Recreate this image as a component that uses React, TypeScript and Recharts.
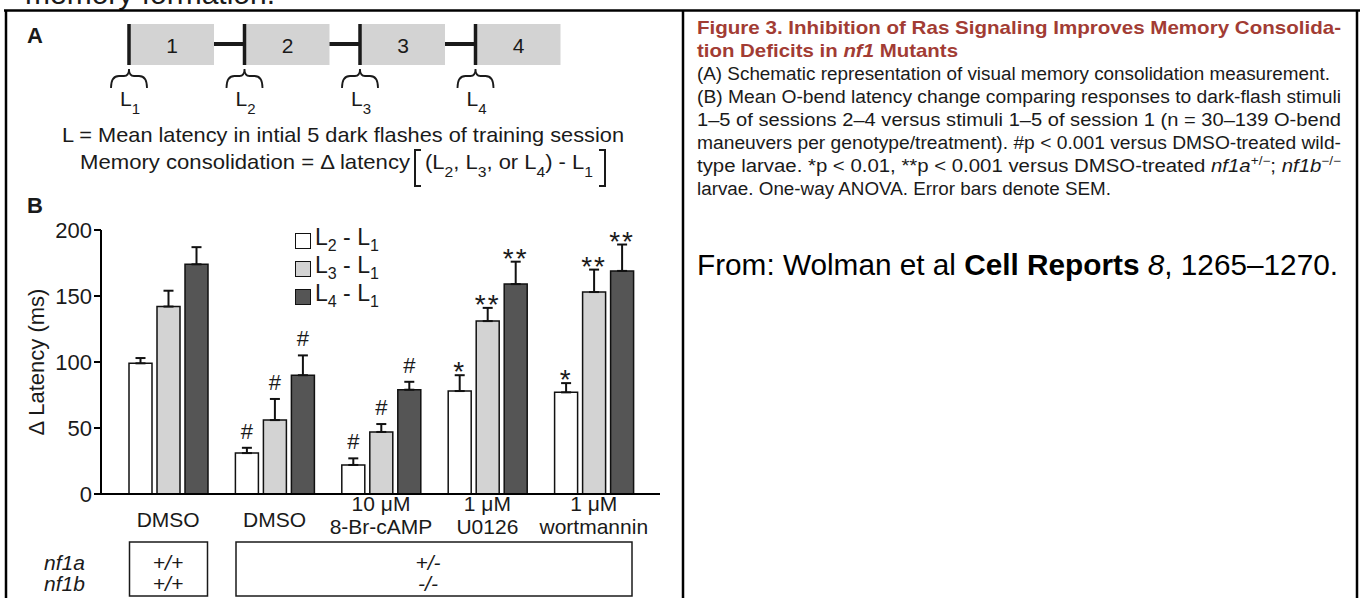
import React from 'react';
import { BarChart, Bar, XAxis, YAxis, ErrorBar, Legend, LabelList, Label } from 'recharts';

const FONT = '"Liberation Sans", Arial, Helvetica, sans-serif';
const INK = '#1a1a1a';

// chart data
const groups = ['DMSO', 'DMSO', '10 μM\n8-Br-cAMP', '1 μM\nU0126', '1 μM\nwortmannin'];
const l2Values = [99, 31, 22, 78, 77];
const l2Sem = [4, 4, 5, 12, 7];
const l3Values = [142, 56, 47, 131, 153];
const l3Sem = [12, 16, 6, 10, 17];
const l4Values = [174, 90, 79, 159, 169];
const l4Sem = [13, 15, 6, 17, 20];
const l2Marks = ['', '#', '#', '*', '*'];
const l3Marks = ['', '#', '#', '**', '**'];
const l4Marks = ['', '#', '#', '**', '**'];
const yTicks = [0, 50, 100, 150, 200];

// genotype table + schematic
const nf1aRow = ['+/+', '+/-'];
const nf1bRow = ['+/+', '-/-'];
const sessions = ['1', '2', '3', '4'];

const series = [
  { key: 'l2', sub: '2', fill: '#ffffff', values: l2Values, sem: l2Sem, marks: l2Marks },
  { key: 'l3', sub: '3', fill: '#d3d3d3', values: l3Values, sem: l3Sem, marks: l3Marks },
  { key: 'l4', sub: '4', fill: '#555555', values: l4Values, sem: l4Sem, marks: l4Marks },
];

const data = groups.map((g, i) => {
  const row: any = { group: g };
  series.forEach((s) => {
    row[s.key] = s.values[i];
    row[s.key + 'Err'] = [0, s.sem[i]];
    row[s.key + 'Mark'] = s.marks[i];
  });
  return row;
});

const markRenderer = (s: any) => (props: any) => {
  const { index, value } = props;
  if (!value) return null;
  const vb = props.viewBox || props;
  const { x, y, width, height } = vb;
  const perUnit = height / s.values[index];
  const errTop = y - s.sem[index] * perUnit;
  const star = String(value).includes('*');
  return (
    <text x={x + width / 2} y={star ? errTop + 6 : errTop - 9} textAnchor="middle"
      fontSize={star ? 28 : 22} fontFamily={FONT} fill={INK} letterSpacing={star ? 2 : 0}>{value}</text>
  );
};

const GroupTick = (props: any) => {
  const { x, y, payload } = props;
  const lines = String(payload.value).split('\n');
  if (lines.length === 1) {
    return <text x={x} y={y + 33} textAnchor="middle" fontSize={21} fontFamily={FONT} fill={INK}>{lines[0]}</text>;
  }
  return (
    <text x={x} y={y + 17} textAnchor="middle" fontSize={21} fontFamily={FONT} fill={INK}>
      <tspan x={x}>{lines[0]}</tspan>
      <tspan x={x} dy={23}>{lines[1]}</tspan>
    </text>
  );
};

const LegendBox = () => (
  <div style={{ fontFamily: FONT, color: INK }}>
    {series.map((s) => (
      <div key={s.key} style={{ display: 'flex', alignItems: 'center', height: 28 }}>
        <div style={{ width: 14, height: 14, background: s.fill, border: '1.5px solid #111', marginRight: 4 }} />
        <span style={{ fontSize: 23, lineHeight: '23px' }}>
          L<sub style={{ fontSize: 16, verticalAlign: '-6px' }}>{s.sub}</sub> - L<sub style={{ fontSize: 16, verticalAlign: '-6px' }}>1</sub>
        </span>
      </div>
    ))}
  </div>
);

const Brace = ({ cx }: { cx: number }) => (
  <path d={`M${cx - 18} 88 Q${cx - 18} 76 ${cx - 10} 76 L${cx - 5} 76 Q${cx} 76 ${cx} 69 Q${cx} 76 ${cx + 5} 76 L${cx + 10} 76 Q${cx + 18} 76 ${cx + 18} 88`}
    fill="none" stroke={INK} strokeWidth={1.8} />
);

const capLines = [
  '(B) Mean O-bend latency change comparing responses to dark-flash stimuli',
  '1–5 of sessions 2–4 versus stimuli 1–5 of session 1 (n = 30–139 O-bend',
  'maneuvers per genotype/treatment). #p < 0.001 versus DMSO-treated wild-',
];

const Decor = () => {
  const boxLeft = (i: number) => 129 + i * 115.5;
  return (
    <svg width={1360} height={598} style={{ position: 'absolute', left: 0, top: 0 }} fontFamily={FONT}>
      <text x={25} y={4} fontSize={30} fill={INK}>memory formation.</text>
      {/* frame */}
      <line x1={4} y1={10.5} x2={1360} y2={10.5} stroke="#000" strokeWidth={2.5} />
      <line x1={6} y1={10} x2={6} y2={598} stroke="#000" strokeWidth={2.5} />
      <line x1={683} y1={10} x2={683} y2={598} stroke="#000" strokeWidth={2.5} />
      <line x1={1357} y1={10} x2={1357} y2={598} stroke="#000" strokeWidth={2.5} />

      {/* panel A */}
      <text x={27} y={43} fontSize={22} fontWeight="bold" fill={INK}>A</text>
      {sessions.map((s, i) => (
        <g key={s}>
          <rect x={boxLeft(i)} y={24} width={85} height={41} fill="#d3d3d3" />
          <line x1={boxLeft(i)} y1={24} x2={boxLeft(i)} y2={65} stroke={INK} strokeWidth={3.5} />
          {i > 0 && <line x1={boxLeft(i - 1) + 85} y1={44} x2={boxLeft(i)} y2={44} stroke={INK} strokeWidth={4} />}
          <text x={boxLeft(i) + 43} y={53} textAnchor="middle" fontSize={21} fill={INK}>{s}</text>
          <Brace cx={boxLeft(i)} />
          <text x={boxLeft(i) + 1} y={106} textAnchor="middle" fontSize={21} fill={INK}>
            L<tspan fontSize={15} dy={8}>{i + 1}</tspan>
          </text>
        </g>
      ))}
      <text x={62} y={142} fontSize={21} fill={INK} textLength={562} lengthAdjust="spacingAndGlyphs">
        L = Mean latency in intial 5 dark flashes of training session
      </text>
      <text x={80} y={169} fontSize={21} fill={INK} textLength={330} lengthAdjust="spacingAndGlyphs">
        Memory consolidation = Δ latency
      </text>
      <path d="M421 150 H415 V186 H421" fill="none" stroke={INK} strokeWidth={2} />
      <text x={425} y={169} fontSize={21} fill={INK} textLength={168} lengthAdjust="spacingAndGlyphs">
        (L<tspan fontSize={15} dy={8}>2</tspan><tspan dy={-8}>, L</tspan><tspan fontSize={15} dy={8}>3</tspan><tspan dy={-8}>, or L</tspan><tspan fontSize={15} dy={8}>4</tspan><tspan dy={-8}>) - L</tspan><tspan fontSize={15} dy={8}>1</tspan>
      </text>
      <path d="M599 150 H605 V186 H599" fill="none" stroke={INK} strokeWidth={2} />

      {/* panel B label */}
      <text x={27} y={213} fontSize={22} fontWeight="bold" fill={INK}>B</text>

      {/* genotype table */}
      <text x={44} y={570} fontSize={21} fontStyle="italic" fill={INK}>nf1a</text>
      <text x={44} y={591} fontSize={21} fontStyle="italic" fill={INK}>nf1b</text>
      <rect x={129.5} y={542} width={78} height={54} fill="none" stroke={INK} strokeWidth={1.5} />
      <rect x={236} y={542} width={396} height={54} fill="none" stroke={INK} strokeWidth={1.5} />
      <text x={168} y={570} textAnchor="middle" fontSize={21} fontStyle="italic" fill={INK}>{nf1aRow[0]}</text>
      <text x={168} y={591} textAnchor="middle" fontSize={21} fontStyle="italic" fill={INK}>{nf1bRow[0]}</text>
      <text x={428} y={570} textAnchor="middle" fontSize={21} fontStyle="italic" fill={INK}>{nf1aRow[1]}</text>
      <text x={428} y={591} textAnchor="middle" fontSize={21} fontStyle="italic" fill={INK}>{nf1bRow[1]}</text>

      {/* caption */}
      <text x={697} y={34} fontSize={19} fontWeight="bold" fill="#a23c34" textLength={644} lengthAdjust="spacingAndGlyphs">
        Figure 3.  Inhibition of Ras Signaling Improves Memory Consolida-
      </text>
      <text x={697} y={57} fontSize={19} fontWeight="bold" fill="#a23c34" textLength={261} lengthAdjust="spacingAndGlyphs">
        tion Deficits in <tspan fontStyle="italic">nf1</tspan> Mutants
      </text>
      <text x={697} y={80} fontSize={18} fill={INK} textLength={633} lengthAdjust="spacingAndGlyphs">
        (A) Schematic representation of visual memory consolidation measurement.
      </text>
      {capLines.map((l, i) => (
        <text key={i} x={697} y={103 + i * 23} fontSize={18} fill={INK} textLength={644} lengthAdjust="spacingAndGlyphs">{l}</text>
      ))}
      <text x={697} y={172} fontSize={18} fill={INK} textLength={644} lengthAdjust="spacingAndGlyphs">
        type larvae. *p &lt; 0.01, **p &lt; 0.001 versus DMSO-treated <tspan fontStyle="italic">nf1a</tspan><tspan fontSize={12} dy={-7}>+/−</tspan><tspan dy={7}>; </tspan><tspan fontStyle="italic">nf1b</tspan><tspan fontSize={12} dy={-7}>−/−</tspan>
      </text>
      <text x={697} y={195} fontSize={18} fill={INK} textLength={414} lengthAdjust="spacingAndGlyphs">
        larvae. One-way ANOVA. Error bars denote SEM.
      </text>
      <text x={697} y={275} fontSize={29} fill="#000" textLength={641} lengthAdjust="spacingAndGlyphs">
        From: Wolman et al <tspan fontWeight="bold">Cell Reports</tspan> <tspan fontStyle="italic">8</tspan>, 1265–1270.
      </text>
    </svg>
  );
};

export default function App() {
  return (
    <div style={{ position: 'absolute', left: 0, top: 0, width: 1360, height: 598, overflow: 'hidden', background: '#fff', fontFamily: FONT }}>
      <Decor />
      <div style={{ position: 'absolute', left: 0, top: 0 }}>
        <BarChart width={700} height={598} data={data} barSize={23} barGap={5}
          margin={{ top: 230, right: 40, bottom: 64, left: 41 }}>
          <XAxis dataKey="group" height={40} tickLine={false} tickSize={0} tickMargin={0}
            axisLine={{ stroke: '#000', strokeWidth: 2 }} padding={{ left: 14, right: 13 }}
            tick={<GroupTick />} interval={0} />
          <YAxis width={60} domain={[0, 200]} ticks={yTicks} tickSize={7}
            axisLine={{ stroke: '#000', strokeWidth: 2 }} tickLine={{ stroke: '#000', strokeWidth: 2 }}
            tick={{ fontSize: 22, fill: INK, fontFamily: FONT }}>
            <Label content={(p: any) => {
              const vb = p.viewBox;
              const cx = vb.x - 5;
              const cy = vb.y + vb.height / 2;
              return (
                <text x={cx} y={cy} transform={`rotate(-90 ${cx} ${cy})`} textAnchor="middle"
                  dominantBaseline="central" fontSize={22} fontFamily={FONT} fill={INK}>Δ Latency (ms)</text>
              );
            }} />
          </YAxis>
          <Legend layout="vertical" align="center" verticalAlign="middle" content={<LegendBox />}
            wrapperStyle={{ left: 295, top: 227, width: 110, height: 90 }} />
          {series.map((s) => (
            <Bar key={s.key} dataKey={s.key} fill={s.fill} stroke="#111" strokeWidth={1.5} isAnimationActive={false}>
              <ErrorBar dataKey={s.key + 'Err'} width={5} stroke="#111" strokeWidth={2} direction="y" />
              <LabelList dataKey={s.key + 'Mark'} content={markRenderer(s)} />
            </Bar>
          ))}
        </BarChart>
      </div>
    </div>
  );
}
